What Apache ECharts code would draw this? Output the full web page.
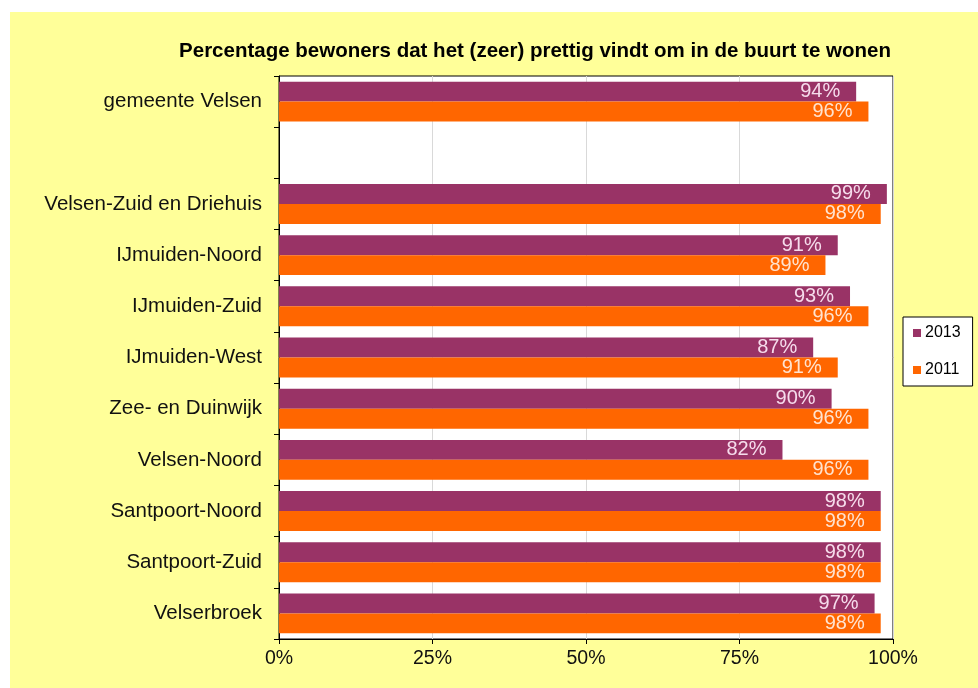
<!DOCTYPE html>
<html>
<head>
<meta charset="utf-8">
<script src="https://cdn.jsdelivr.net/npm/echarts@6/dist/echarts.min.js"></script>
<style>
html,body{margin:0;padding:0;background:#fff;}
#bg{position:absolute;left:10px;top:12px;width:968px;height:676px;background:#FFFF99;}
#chart{position:absolute;left:0;top:0;width:978px;height:688px;}
</style>
</head>
<body>
<div id="bg"></div>
<div id="chart"></div>
<script>
const titleText = 'Percentage bewoners dat het (zeer) prettig vindt om in de buurt te wonen';
const categories = ['gemeente Velsen', '', 'Velsen-Zuid en Driehuis', 'IJmuiden-Noord', 'IJmuiden-Zuid', 'IJmuiden-West', 'Zee- en Duinwijk', 'Velsen-Noord', 'Santpoort-Noord', 'Santpoort-Zuid', 'Velserbroek'];
const values2013 = [94, null, 99, 91, 93, 87, 90, 82, 98, 98, 97];
const values2011 = [96, null, 98, 89, 96, 91, 96, 96, 98, 98, 98];
const seriesNames = ['2013', '2011'];
const xTicks = [0, 25, 50, 75, 100];

const font = "'Liberation Sans', Arial, sans-serif";
const chart = echarts.init(document.getElementById('chart'), null, {renderer: 'canvas'});
chart.setOption({
  backgroundColor: 'transparent',
  animation: false,
  title: {
    text: titleText,
    left: 530, top: 36, textAlign: 'center',
    textStyle: {fontFamily: font, fontWeight: 'bold', fontSize: 20.5, color: '#000'}
  },
  legend: {
    orient: 'vertical',
    left: 903, top: 317,
    data: seriesNames,
    backgroundColor: '#fff',
    borderColor: '#000', borderWidth: 1,
    padding: [8, 12, 8, 10],
    itemWidth: 8, itemHeight: 8, itemGap: 21,
    icon: 'rect',
    textStyle: {fontFamily: font, fontSize: 16, color: '#000', padding: [0, 0, 0, -1]}
  },
  grid: {
    left: 279, right: 85, top: 76, bottom: 49,
    show: true, backgroundColor: '#fff', borderColor: '#000', borderWidth: 1
  },
  xAxis: {
    type: 'value', min: xTicks[0], max: xTicks[xTicks.length - 1], interval: 25,
    axisLine: {show: true, lineStyle: {color: '#000', width: 1}},
    axisTick: {show: true, length: 5, lineStyle: {color: '#000'}},
    splitLine: {show: true, lineStyle: {color: '#d9d9d9', width: 1}},
    axisLabel: {formatter: '{value}%', fontFamily: font, fontSize: 19.5, color: '#111', margin: 10}
  },
  yAxis: {
    type: 'category', inverse: true, data: categories,
    axisLine: {show: true, lineStyle: {color: '#000', width: 1}},
    axisTick: {show: true, length: 5, alignWithLabel: false, lineStyle: {color: '#000'}},
    axisLabel: {fontFamily: font, fontSize: 20.5, color: '#111', margin: 17}
  },
  series: [
    {
      name: seriesNames[0], type: 'bar', data: values2013,
      itemStyle: {color: '#993366'},
      barGap: '0%', barCategoryGap: '22%',
      label: {show: true, position: 'insideRight', distance: 16, formatter: '{c}%',
        fontFamily: font, fontSize: 20, color: '#f6dcec'}
    },
    {
      name: seriesNames[1], type: 'bar', data: values2011,
      itemStyle: {color: '#FF6600'},
      barGap: '0%', barCategoryGap: '22%',
      label: {show: true, position: 'insideRight', distance: 16, formatter: '{c}%',
        fontFamily: font, fontSize: 20, color: '#ffe3cf'}
    }
  ]
});
</script>
</body>
</html>
